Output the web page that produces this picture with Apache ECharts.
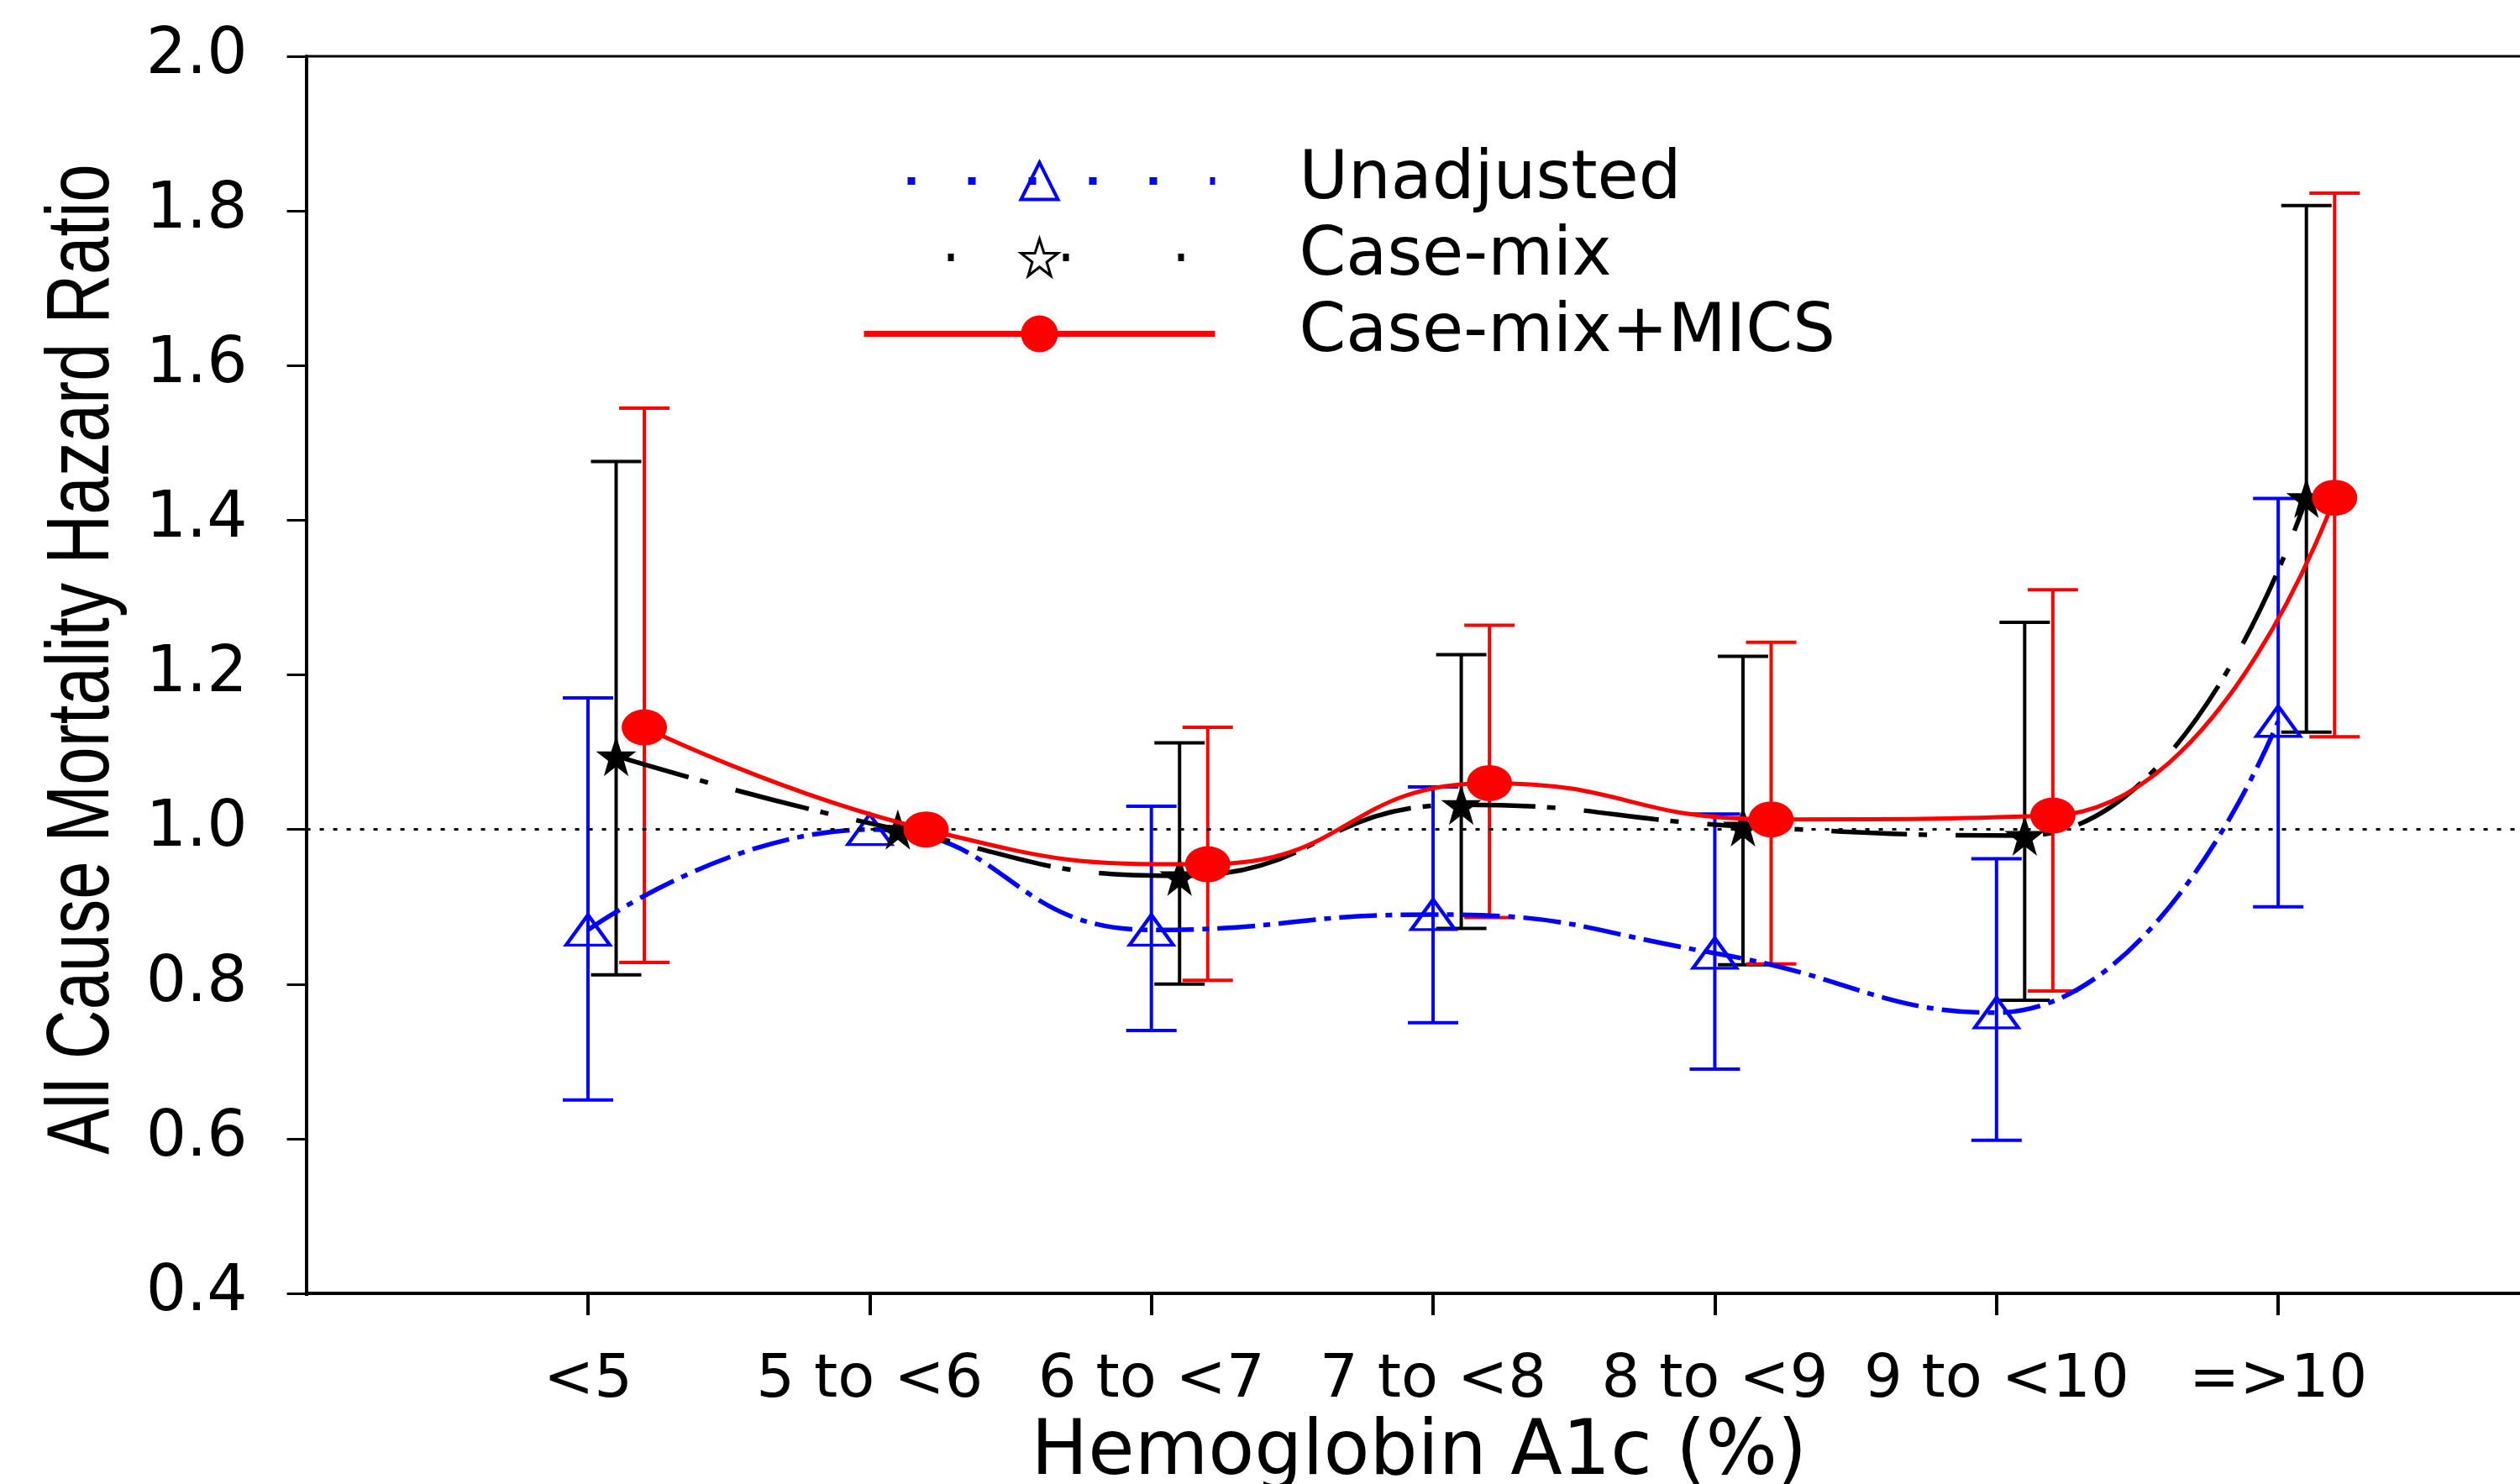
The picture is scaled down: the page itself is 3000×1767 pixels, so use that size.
<!DOCTYPE html>
<html lang="en">
<head>
<meta charset="UTF-8">
<title>Hazard ratio by Hemoglobin A1c</title>
<script src="https://cdn.jsdelivr.net/npm/echarts@6/dist/echarts.min.js"></script>
<style>
  html, body { margin: 0; padding: 0; background: #fff; }
  #chart { width: 3000px; height: 1767px; }
</style>
</head>
<body>
<div id="chart"></div>
<script>
var categories = ['<5', '5 to <6', '6 to <7', '7 to <8', '8 to <9', '9 to <10', '=>10'];

// Unadjusted
var unadjHR   = [0.87, 1.00, 0.87, 0.89, 0.84, 0.763, 1.14];
var unadjLow  = [0.65, null, 0.74, 0.75, 0.69, 0.598, 0.90];
var unadjHigh = [1.17, null, 1.03, 1.055, 1.02, 0.962, 1.428];
// Case-mix
var cmHR   = [1.095, 1.00, 0.94, 1.032, 1.004, 0.992, 1.429];
var cmLow  = [0.812, null, 0.80, 0.872, 0.825, 0.779, 1.126];
var cmHigh = [1.476, null, 1.112, 1.226, 1.224, 1.268, 1.807];
// Case-mix+MICS
var micsHR   = [1.132, 1.00, 0.955, 1.06, 1.013, 1.018, 1.429];
var micsLow  = [0.828, null, 0.805, 0.886, 0.826, 0.791, 1.12];
var micsHigh = [1.545, null, 1.132, 1.264, 1.242, 1.31, 1.823];

var BLUE = '#0000ff', BLACK = '#000000', RED = '#ff0000';
var FONT = 'DejaVu Sans';
var STAR = 'path://M50,0 L61.8,35.1 L98.1,35.1 L68.8,56.7 L79.4,90.9 L50,69.1 L20.6,90.9 L31.2,56.7 L1.9,35.1 L38.2,35.1 Z';

/*
 * each series sits a little to the right of the category
 */
function points(vals, shift) {
    return vals.map(function (v, i) { return [i + shift, v]; });
}
function bars(low, high, shift) {
    var out = [];
    low.forEach(function (l, i) {
        if (l != null) out.push([i + shift, l, high[i]]);
    });
    return out;
}
function errorBar(color) {
    return function (params, api) {
        var x = api.value(0);
        var lo = api.coord([x, api.value(1)]);
        var hi = api.coord([x, api.value(2)]);
        var hw = 30;
        var st = { stroke: color, lineWidth: 4 };
        return {
            type: 'group',
            children: [
                { type: 'line', shape: { x1: lo[0], y1: lo[1], x2: hi[0], y2: hi[1] }, style: st },
                { type: 'line', shape: { x1: hi[0] - hw, y1: hi[1], x2: hi[0] + hw, y2: hi[1] }, style: st },
                { type: 'line', shape: { x1: lo[0] - hw, y1: lo[1], x2: lo[0] + hw, y2: lo[1] }, style: st }
            ]
        };
    };
}
function barSeries(data, color) {
    return {
        type: 'custom',
        renderItem: errorBar(color),
        data: data,
        encode: { x: 0, y: [1, 2] },
        silent: true,
        z: 2
    };
}

var tickPos = categories.map(function (c, i) { return i; });

var myChart = echarts.init(document.getElementById('chart'));
var option = {
    backgroundColor: '#fff',
    animation: false,
    grid: {
        left: 364.6, right: -14, top: 67, bottom: 227,
        outerBoundsMode: 'none',
        containLabel: false,
        show: true, borderColor: '#000', borderWidth: 3
    },
    legend: {
        orient: 'vertical',
        left: 1024,
        top: 170,
        padding: 0,
        itemGap: 0,
        itemWidth: 418,
        itemHeight: 55,
        selectedMode: false,
        textStyle: { fontFamily: FONT, fontSize: 80, color: '#000', lineHeight: 91, padding: [0, 0, 0, 95] },
        data: [
            { name: 'Unadjusted',
              itemStyle: { color: 'rgba(0,0,0,0)', borderColor: BLUE, borderWidth: 4 },
              lineStyle: { type: [9, 63], dashOffset: 20, width: 9 } },
            { name: 'Case-mix',
              itemStyle: { color: '#fff', borderColor: BLACK, borderWidth: 3 },
              lineStyle: { type: [7, 130], dashOffset: 37, width: 9 } },
            { name: 'Case-mix+MICS',
              lineStyle: { width: 7 } }
        ]
    },
    xAxis: {
        type: 'value',
        min: -1,
        max: 6.9,
        interval: 1,
        splitLine: { show: false },
        axisLine: { show: true, onZero: false, lineStyle: { color: '#000', width: 4 } },
        axisTick: { show: true, inside: false, length: 26, lineStyle: { color: '#000', width: 4 } },
        axisLabel: {
            customValues: tickPos,
            formatter: function (v) {
                var i = Math.round(v);
                return Math.abs(v - i) < 1e-6 && categories[i] ? categories[i] : '';
            },
            fontFamily: FONT, fontSize: 72, color: '#000', margin: 68
        },
        name: 'Hemoglobin A1c (%)',
        nameLocation: 'middle',
        nameGap: 147,
        nameTextStyle: { fontFamily: FONT, fontSize: 90, color: '#000' }
    },
    yAxis: {
        type: 'value',
        min: 0.4,
        max: 2.0,
        interval: 0.2,
        splitLine: { show: false },
        axisLine: { show: true, onZero: false, lineStyle: { color: '#000', width: 4 } },
        axisTick: { show: true, length: 23, lineStyle: { color: '#000', width: 3 } },
        axisLabel: {
            formatter: function (v) { return v.toFixed(1); },
            fontFamily: FONT, fontSize: 76, color: '#000', margin: 70
        }
    },
    graphic: [{
        type: 'text',
        x: 100,
        y: 785,
        rotation: Math.PI / 2,
        scaleX: 0.77,
        style: {
            text: 'All Cause Mortality Hazard Ratio',
            fontFamily: 'Liberation Sans',
            fontSize: 106,
            fill: '#000',
            align: 'center',
            verticalAlign: 'middle'
        }
    }, {
        // no tick at the corner under the y axis
        type: 'rect',
        z: 100,
        shape: { x: 358, y: 1543, width: 14, height: 28 },
        style: { fill: '#fff' }
    }],
    series: [
        barSeries(bars(unadjLow, unadjHigh, 0), BLUE),
        barSeries(bars(cmLow, cmHigh, 0.1), BLACK),
        barSeries(bars(micsLow, micsHigh, 0.2), RED),
        {
            name: 'Unadjusted',
            type: 'line',
            data: points(unadjHR, 0),
            smooth: true,
            symbol: 'triangle',
            symbolSize: [52, 36],
            itemStyle: { color: 'rgba(0,0,0,0)', borderColor: BLUE, borderWidth: 4 },
            lineStyle: { color: BLUE, width: 5.5, type: [45, 10, 8, 10] },
            z: 3,
            markLine: {
                silent: true,
                symbol: ['none', 'none'],
                label: { show: false },
                lineStyle: { color: '#000', type: [5, 11], width: 3 },
                data: [{ yAxis: 1 }]
            }
        },
        {
            name: 'Case-mix',
            type: 'line',
            data: points(cmHR, 0.1),
            smooth: true,
            symbol: STAR,
            symbolSize: 48,
            itemStyle: { color: BLACK },
            lineStyle: { color: BLACK, width: 5.5, type: [90, 14, 10, 34] },
            z: 4
        },
        {
            name: 'Case-mix+MICS',
            type: 'line',
            data: points(micsHR, 0.2),
            smooth: true,
            symbol: 'circle',
            symbolSize: [54, 43],
            itemStyle: { color: RED },
            lineStyle: { color: RED, width: 5 },
            z: 5
        }
    ]
};
myChart.setOption(option);
</script>
</body>
</html>
